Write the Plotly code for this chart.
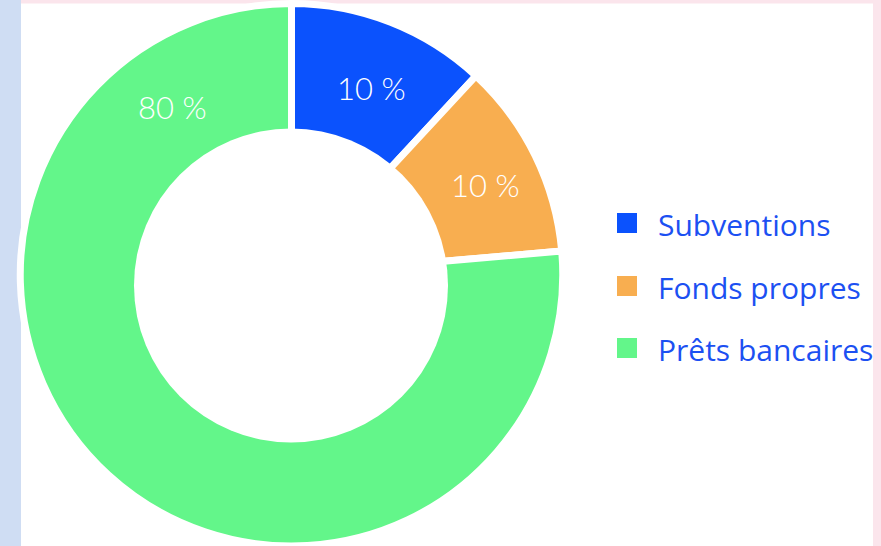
import plotly.graph_objects as go

# Data
categories = ["Subventions", "Fonds propres", "Prêts bancaires"]
slice_sizes = [11.9, 11.7, 76.4]          # angular share as drawn in the picture
label_texts = ["10 %", "10 %", "80 %"]     # labels as printed on the chart
colors = ["#0b52fd", "#f8ae50", "#63f68a"]

W, H = 881, 546

fig = go.Figure()
fig.add_trace(go.Pie(
    labels=categories,
    values=slice_sizes,
    textinfo="none",
    hole=0.5,
    sort=False,
    direction="clockwise",
    rotation=0,
    marker=dict(colors=colors, line=dict(color="white", width=7)),
    domain=dict(x=[20.25 / W, 562.75 / W], y=[0, 1 - 3.5 / H]),
    showlegend=False,
    hoverinfo="label+percent",
))

shapes = [
    # left light-blue strip, top and right pink strips
    dict(type="rect", xref="paper", yref="paper", x0=0, x1=21 / W, y0=0, y1=1,
         fillcolor="#cfddf3", line=dict(width=0), layer="below"),
    dict(type="rect", xref="paper", yref="paper", x0=21 / W, x1=1, y0=1 - 3.5 / H, y1=1,
         fillcolor="#fbe5ec", line=dict(width=0), layer="below"),
    dict(type="rect", xref="paper", yref="paper", x0=873 / W, x1=1, y0=0, y1=1,
         fillcolor="#fbe5ec", line=dict(width=0), layer="below"),
    # donut hole (slightly lower than the ring centre, as in the reference)
    dict(type="circle", xref="paper", yref="paper",
         x0=(291 - 157) / W, x1=(291 + 157) / W,
         y0=1 - (285.5 + 157) / H, y1=1 - (285.5 - 157) / H,
         fillcolor="white", line=dict(width=0), layer="above"),
]

# slice labels (positions as placed in the reference)
label_pos = [(371, 88), (485, 185), (172, 107)]
annotations = []
for txt, (px, py) in zip(label_texts, label_pos):
    annotations.append(dict(text=txt, x=px / W, y=1 - py / H, xref="paper", yref="paper",
                            showarrow=False, xanchor="center", yanchor="middle",
                            font=dict(family="Lato", size=31, color="white", weight=300)))

# Manual legend (large square swatches)
leg_y = [223, 286, 348]
for cat, col, yc in zip(categories, colors, leg_y):
    shapes.append(dict(type="rect", xref="paper", yref="paper",
                       x0=617 / W, x1=637 / W, y0=1 - (yc + 10) / H, y1=1 - (yc - 10) / H,
                       fillcolor=col, line=dict(width=0)))
    annotations.append(dict(text=cat, x=656 / W, y=1 - (yc + 1) / H, xref="paper", yref="paper",
                            showarrow=False, xanchor="left", yanchor="middle",
                            font=dict(family="Open Sans", size=30, color="#1c50f2")))

fig.update_layout(
    width=W, height=H,
    margin=dict(l=0, r=0, t=0, b=0),
    paper_bgcolor="white",
    plot_bgcolor="white",
    shapes=shapes,
    annotations=annotations,
)

fig.write_html("out.html", config={"displayModeBar": False},
               post_script="document.body.style.margin='0';")
